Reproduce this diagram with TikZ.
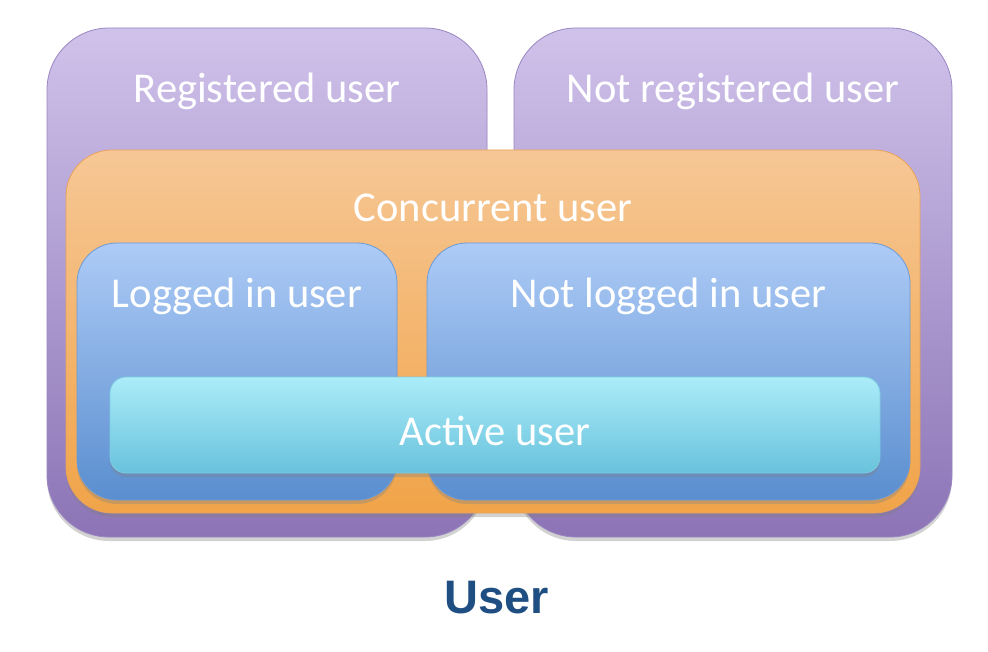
\documentclass[tikz,border=0pt]{standalone}
\usepackage{fontspec}
\setmainfont{Carlito}
\newfontfamily\titlefont{Liberation Sans}
\usetikzlibrary{shadows}
\definecolor{purpTop}{HTML}{CFC2EA}
\definecolor{purpBot}{HTML}{8C74B6}
\definecolor{purpLine}{HTML}{9A86C2}
\definecolor{orTop}{HTML}{F6C795}
\definecolor{orBot}{HTML}{F1A449}
\definecolor{orLine}{HTML}{E8A25A}
\definecolor{blTop}{HTML}{ADCBF6}
\definecolor{blBot}{HTML}{5A8ECF}
\definecolor{blLine}{HTML}{6E9AD6}
\definecolor{cyTop}{HTML}{ACECF9}
\definecolor{cyBot}{HTML}{68C2DC}
\definecolor{cyLine}{HTML}{7CCBE2}
\definecolor{titleBlue}{HTML}{1F4E82}
\tikzset{
  setbox/.style={rectangle, inner sep=0pt, line width=0.8pt,
    drop shadow={opacity=0.35, shadow xshift=0pt, shadow yshift=-4pt}},
  purplebox/.style={setbox, draw=purpLine, top color=purpTop, bottom color=purpBot, rounded corners=62pt},
  orangebox/.style={setbox, draw=orLine, top color=orTop, bottom color=orBot, rounded corners=46pt},
  bluebox/.style={setbox, draw=blLine, top color=blTop, bottom color=blBot, rounded corners=40pt},
  cyanbox/.style={setbox, draw=cyLine, top color=cyTop, bottom color=cyBot, rounded corners=16pt},
  lbl/.style={text=white, font=\fontsize{42.5}{48}\selectfont, inner sep=0pt}
}
\begin{document}
\begin{tikzpicture}[x=1pt,y=-1pt]
\useasboundingbox[fill=white] (0,0) rectangle (988,652);
\node[purplebox, minimum width=440pt, minimum height=509pt] (reg) at (267,282.5) {};
\node[purplebox, minimum width=438pt, minimum height=509pt] (notreg) at (733,282.5) {};
\node[orangebox, minimum width=854pt, minimum height=363pt] (conc) at (493,331.5) {};
\node[bluebox, minimum width=320pt, minimum height=257pt] (login) at (237,371.5) {};
\node[bluebox, minimum width=483pt, minimum height=257pt] (notlogin) at (668.5,371.5) {};
\node[cyanbox, minimum width=770pt, minimum height=96pt] (active) at (495,425) {};
\node[lbl] (regT) at (267,91) {Registered user};
\node[lbl] (notregT) at (733,91) {Not registered user};
\node[lbl] (concT) at (493,208) {Concurrent user};
\node[lbl] (loginT) at (237,296) {Logged in user};
\node[lbl] (notloginT) at (668.5,296) {Not logged in user};
\node[lbl] (activeT) at (495,431) {Active user};
\node[text=titleBlue, font=\titlefont\bfseries\fontsize{47}{52}\selectfont, inner sep=0pt] (title) at (497,598) {User};
\end{tikzpicture}
\end{document}
